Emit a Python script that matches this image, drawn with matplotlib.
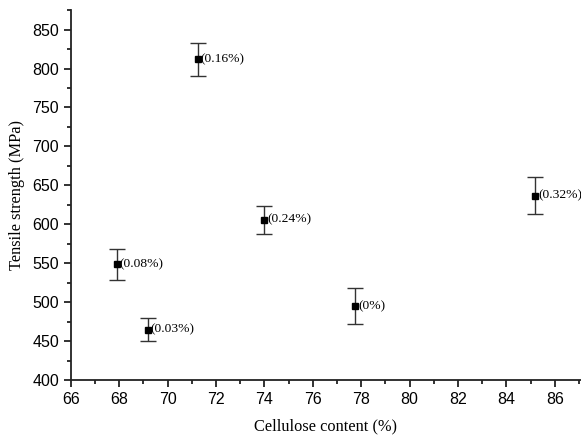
import matplotlib
matplotlib.use("Agg")
import matplotlib.pyplot as plt
from matplotlib.ticker import MultipleLocator

# data
cellulose = [71.25, 67.9, 69.17, 74.0, 77.76, 85.19]
strength = [812, 549, 465, 606, 495, 637]
err = [21, 20, 15, 18, 23, 24]
labels = ["(0.16%)", "(0.08%)", "(0.03%)", "(0.24%)", "(0%)", "(0.32%)"]

fig = plt.figure(figsize=(5.81, 4.4), dpi=100)
ax = fig.add_axes([0.122, 0.136, 0.878, 0.841])

ax.errorbar(cellulose, strength, yerr=err, fmt="s", color="black",
            markersize=4, ecolor="#333333", elinewidth=1.0,
            capsize=5.5, capthick=1.0)

for x, y, t in zip(cellulose, strength, labels):
    ax.annotate(t, (x, y), xytext=(2, 0), textcoords="offset points",
                va="center", ha="left", family="Liberation Serif", fontsize=9.7)

ax.set_xlim(66, 87.08)
ax.set_ylim(400, 875)
ax.xaxis.set_major_locator(MultipleLocator(2))
ax.xaxis.set_minor_locator(MultipleLocator(1))
ax.yaxis.set_major_locator(MultipleLocator(50))
ax.yaxis.set_minor_locator(MultipleLocator(25))

for s in ["top", "right"]:
    ax.spines[s].set_visible(False)
for s in ["left", "bottom"]:
    ax.spines[s].set_linewidth(1.3)
    ax.spines[s].set_color("#222222")

ax.tick_params(which="major", direction="out", length=5, width=1.3,
               labelsize=11.5, color="#222222")
ax.tick_params(which="minor", direction="out", length=3, width=1.3,
               color="#222222")
for lab in ax.get_xticklabels() + ax.get_yticklabels():
    lab.set_family("Liberation Sans")

ax.set_xlabel("Cellulose content (%)", family="Liberation Serif",
              fontsize=11.8, labelpad=8)
ax.set_ylabel("Tensile strength (MPa)", family="Liberation Serif",
              fontsize=11.8, labelpad=5)

fig.savefig("out.png", dpi=100)
